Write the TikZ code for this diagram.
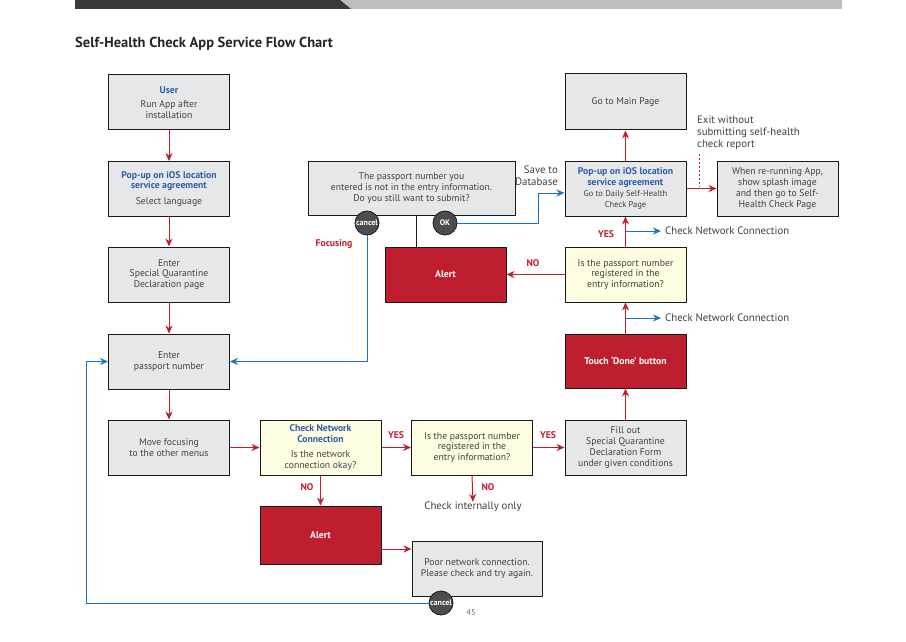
\documentclass[tikz,border=0pt]{standalone}
\usepackage{fontspec}
\setmainfont{PT Sans}
\usetikzlibrary{arrows.meta}
\definecolor{boxgray}{HTML}{E6E7E8}
\definecolor{boxyel}{HTML}{FEFDE1}
\definecolor{alertred}{HTML}{BE1E2D}
\definecolor{headblue}{HTML}{2E5CAA}
\definecolor{lineblue}{HTML}{1A75BC}
\definecolor{darkc}{HTML}{4D4D4F}
\definecolor{txtgray}{HTML}{414042}
\definecolor{barlight}{HTML}{BCBEC0}
\definecolor{bardark}{HTML}{3A3A3C}
\tikzset{
  box/.style={draw=black!90, line width=1pt, fill=boxgray, minimum width=121pt, minimum height=55pt,
    align=center, font=\fontsize{9.7}{10.8}\selectfont, text=txtgray, inner sep=2pt},
  ybox/.style={box, fill=boxyel},
  rbox/.style={box, fill=alertred, text=white, font=\fontsize{9.7}{10.8}\selectfont\bfseries},
  redarr/.style={draw=alertred, line width=1pt, -{Stealth[length=8pt,width=7pt]}},
  bluearr/.style={draw=lineblue, line width=1pt, -{Stealth[length=8pt,width=7pt]}},
  lbl/.style={text=alertred, font=\fontsize{9.7}{10}\selectfont\bfseries, inner sep=0pt},
  note/.style={text=txtgray, font=\fontsize{10.8}{12}\selectfont, inner sep=0pt},
  circ/.style={circle, draw=black!90, line width=0.8pt, fill=darkc, minimum size=24pt, inner sep=0pt,
    text=white, font=\fontsize{8}{8}\selectfont\bfseries},
}
\begin{document}
\begin{tikzpicture}[x=1pt,y=-1pt]
\useasboundingbox (0,0) rectangle (906,642);
\fill[white] (0,0) rectangle (906,642);
% header bar
\fill[barlight] (75,0) rectangle (842,9);
\fill[bardark] (75,0) -- (340,0) -- (351,9) -- (75,9) -- cycle;
\node[anchor=west, inner sep=0pt, font=\fontsize{14.5}{16}\selectfont\bfseries, text=black!85] (title) at (75,44) {Self-Health Check App Service Flow Chart};

% left column
\node[box] (user) at (169,102.5) {\textcolor{headblue}{\textbf{User}}\\[4pt]Run App after\\installation};
\node[box] (popL) at (169,189) {\textcolor{headblue}{\textbf{Pop-up on iOS location}}\\\textcolor{headblue}{\textbf{service agreement}}\\[5pt]Select language};
\node[box] (sqd) at (169,274.5) {Enter\\Special Quarantine\\Declaration page};
\node[box] (pass) at (169,361.5) {Enter\\passport number};
\node[box] (move) at (169,447.5) {Move focusing\\to the other menus};

% bottom row
\node[ybox] (chk) at (320.5,447.5) {\textcolor{headblue}{\textbf{Check Network}}\\\textcolor{headblue}{\textbf{Connection}}\\[4pt]Is the network\\connection okay?};
\node[ybox] (reg1) at (472,447.5) {Is the passport number\\registered in the\\entry information?};
\node[box] (fill) at (625.5,447.5) {Fill out\\Special Quarantine\\Declaration Form\\under given conditions};
\node[rbox, minimum height=58pt] (alert2) at (320.5,535) {Alert};
\node[box, minimum width=130pt] (poor) at (477,568.5) {Poor network connection.\\Please check and try again.};
\node[note] (internal) at (473,507) {Check internally only};

% right column
\node[rbox, minimum height=54pt] (done) at (625.5,361) {Touch `Done' button};
\node[ybox] (reg2) at (625.5,274.5) {Is the passport number\\registered in the\\entry information?};
\node[box] (popR) at (625.5,188.5) {\textcolor{headblue}{\textbf{Pop-up on iOS location}}\\\textcolor{headblue}{\textbf{service agreement}}\\[1pt]{\fontsize{8.5}{9.8}\selectfont Go to Daily Self-Health}\\{\fontsize{8.5}{9.8}\selectfont Check Page}};
\node[box, minimum height=56pt] (main) at (625.5,102) {Go to Main Page};
\node[box] (rerun) at (777.5,188.5) {When re-running App,\\show splash image\\and then go to Self-\\Health Check Page};

% middle top
\node[box, minimum width=207pt, minimum height=54pt] (msg) at (411.5,188) {The passport number you\\entered is not in the entry information.\\Do you still want to submit?};
\node[rbox] (alert1) at (445.5,274.5) {Alert};
\draw[black!90, line width=1pt] (msg.south -| 416,0) -- (alert1.north -| 416,0);
\node[circ] (cancel1) at (367,223) {cancel};
\node[circ] (ok) at (445,223) {OK};
\node[circ] (cancel2) at (441,603) {cancel};

% texts
\node[note, align=right, anchor=east] (save) at (558,175.5) {Save to\\Database};
\node[note, align=left, anchor=north west] (exit) at (697,116) {Exit without\\submitting self-health\\check report};
\node[note, anchor=west] (cn1) at (665,231) {Check Network Connection};
\node[note, anchor=west] (cn2) at (665,318) {Check Network Connection};
\node[lbl] (focus) at (334,244) {Focusing};
\node[lbl] (no1) at (533,263) {NO};
\node[lbl] (yes1) at (606,234) {YES};
\node[lbl] (no2) at (307,487) {NO};
\node[lbl] (yes2) at (396,435) {YES};
\node[lbl] (yes3) at (548,435) {YES};
\node[lbl] (no3) at (488,487) {NO};
\node[text=black!55, font=\fontsize{8.5}{9}\selectfont, inner sep=0pt] (pg) at (471,613) {45};

% red arrows
\draw[redarr] (user) -- (popL);
\draw[redarr] (popL) -- (sqd);
\draw[redarr] (sqd) -- (pass);
\draw[redarr] (pass) -- (move);
\draw[redarr] (move) -- (chk);
\draw[redarr] (chk) -- (reg1);
\draw[redarr] (reg1) -- (fill);
\draw[redarr] (reg1.south) -- (internal.north);
\draw[redarr] (chk) -- (alert2);
\draw[redarr] (alert2.east |- 0,549) -- (poor.west |- 0,549);
\draw[redarr] (fill) -- (done);
\draw[redarr] (done) -- (reg2);
\draw[redarr] (reg2) -- (popR);
\draw[redarr] (popR) -- (main);
\draw[redarr] (reg2) -- (alert1);
\draw[redarr] (popR) -- (rerun);
\draw[alertred, line width=0.8pt, dash pattern=on 2pt off 2pt] (699,154) -- (699,187);

% blue
\draw[bluearr] (popR.south |- cn1.west) -- ([xshift=-4pt]cn1.west);
\draw[bluearr] (reg2.south |- cn2.west) -- ([xshift=-4pt]cn2.west);
\draw[bluearr] (ok.east) -- (538,223) -- (538,193) -- (popR.west |- 0,193);
\draw[bluearr] (cancel1.south) -- (cancel1.south |- pass.east) -- (pass.east);
\draw[bluearr] (cancel2.west) -- (86,603) -- (86,361.5) -- (pass.west);
\end{tikzpicture}
\end{document}
